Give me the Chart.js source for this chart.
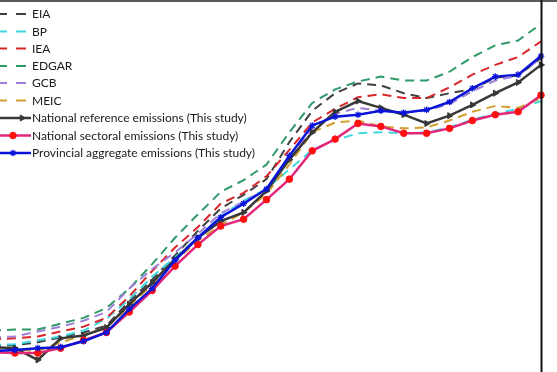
<!DOCTYPE html>
<html><head><meta charset="utf-8">
<script src="https://cdn.jsdelivr.net/npm/chart.js@4.4.1/dist/chart.umd.min.js"></script>
<style>html,body{margin:0;padding:0;background:#fff;overflow:hidden}#wrap{width:557px;height:372px;position:relative}canvas{display:block}</style>
</head><body><div id="wrap"><canvas id="c" width="557" height="372"></canvas></div>
<script>
// CO2 emissions (Mt), China
const years = [1996,1997,1998,1999,2000,2001,2002,2003,2004,2005,2006,2007,2008,2009,2010,2011,2012,2013,2014,2015,2016,2017,2018,2019,2020];
const EIA   = [3375,3400,3475,3600,3725,3900,4525,5075,5700,6325,6900,7250,7650,8600,9400,9850,10100,10050,9850,9725,9850,9950,10250,10300,10750];
const BP    = [3400,3425,3525,3625,3775,4075,4575,5150,5650,6150,6700,7100,7400,7900,8400,8650,8825,8850,8825,8850,8975,9175,9325,9450,9650];
const IEA   = [3550,3575,3625,3750,3875,4100,4650,5300,5900,6425,7025,7300,7725,8400,9100,9450,9750,9825,9725,9725,10000,10325,10575,10775,11175];
const EDGAR = [3775,3800,3800,3950,4100,4350,4850,5475,6150,6750,7325,7625,8025,8850,9600,9950,10150,10275,10175,10175,10400,10775,11075,11200,11625];
const GCB   = [3600,3625,3750,3875,4025,4250,4850,5350,5775,6250,6775,7075,7400,8150,8950,9325,9475,9400,9350,9400,9575,9900,10175,10300,10750];
const MEIC  = [3300,3300,3250,3475,3650,3850,4400,4950,5550,6075,6475,6800,7275,8025,8850,9100,9150,9000,8950,8975,9150,9375,9525,9475,9725];
const NATREF = [3350,3325,3025,3575,3650,3850,4450,5000,5600,6150,6575,6800,7350,8150,8850,9375,9650,9475,9300,9075,9275,9550,9850,10125,10575];
const NATSEC = [3225,3200,3200,3325,3525,3725,4250,4800,5425,5975,6450,6625,7125,7650,8375,8675,9075,9000,8825,8825,8950,9150,9300,9375,9800];
const PROV   = [3250,3275,3325,3350,3500,3725,4325,4850,5575,6150,6675,7025,7400,8250,9025,9250,9300,9400,9350,9425,9625,9975,10275,10325,10800];

const pts = arr => arr.map((v,i)=>({x:years[i], y:v}));

function dashed(label, data, color, order){
  return {label, data: pts(data), borderColor: color, backgroundColor: color, borderWidth: 2,
    borderDash: [9,6], pointRadius: 0, tension: 0, order, clip: false, _dashed: true};
}

const datasets = [
  dashed('EIA', EIA, '#404040', 9),
  dashed('BP', BP, '#3fd8df', 8),
  dashed('IEA', IEA, '#d8262b', 7),
  dashed('EDGAR', EDGAR, '#2e9a68', 6),
  dashed('GCB', GCB, '#a080da', 5),
  dashed('MEIC', MEIC, '#d0a030', 4),
  {label:'National reference emissions (This study)', data: pts(NATREF), borderColor:'#383838', backgroundColor:'#383838',
    borderWidth:2.5, pointStyle:'triangle', pointRotation:90, pointRadius:3.5, pointBorderWidth:1, order:2, clip:false},
  {label:'National sectoral emissions (This study)', data: pts(NATSEC), borderColor:'#e2267a', backgroundColor:'#ff1010',
    pointBackgroundColor:'#ff1010', pointBorderColor:'#ff1010', borderWidth:2.5, pointStyle:'circle', pointRadius:3.3, pointBorderWidth:1, order:1, clip:false},
  {label:'Provincial aggregate emissions (This study)', data: pts(PROV), borderColor:'#0a14d8', backgroundColor:'#0a14d8',
    borderWidth:2.5, pointStyle:'star', pointRadius:3.3, pointBorderWidth:1.3, order:0, clip:false}
];

const legendFrame = {
  id:'legendFrame',
  afterDraw(chart){
    const ctx = chart.ctx, area = chart.chartArea;
    ctx.save();
    // frame
    ctx.strokeStyle = '#5a5a5a'; ctx.lineWidth = 2;
    ctx.beginPath(); ctx.moveTo(0,1); ctx.lineTo(557,1); ctx.stroke();
    ctx.strokeStyle = '#111'; ctx.lineWidth = 2;
    ctx.beginPath(); ctx.moveTo(area.right+0.5,0); ctx.lineTo(area.right+0.5,372); ctx.stroke();
    // legend
    const rowY = [14,31.5,48.5,66,83,100.5,118,135.5,153];
    ctx.font = '12px Lato, "Noto Sans", sans-serif';
    ctx.textBaseline = 'middle';
    chart.data.datasets.forEach((ds,i)=>{
      const y = rowY[i];
      ctx.strokeStyle = ds.borderColor;
      ctx.lineWidth = ds._dashed ? 2 : 2.5;
      ctx.setLineDash(ds._dashed ? [10,9] : []);
      ctx.beginPath();
      if (ds._dashed){ ctx.moveTo(-3,y); ctx.lineTo(27,y);} else { ctx.moveTo(0,y); ctx.lineTo(31,y);}
      ctx.stroke();
      ctx.setLineDash([]);
      if (!ds._dashed){
        ctx.fillStyle = ds.pointBackgroundColor || ds.backgroundColor;
        ctx.strokeStyle = ds.pointBorderColor || ds.borderColor;
        ctx.lineWidth = ds.pointBorderWidth;
        const px = ds.pointStyle === 'triangle' ? 22 : 13;
        Chart.helpers.drawPoint(ctx, {pointStyle: ds.pointStyle, radius: ds.pointRadius, rotation: ds.pointRotation||0, borderWidth: ds.pointBorderWidth}, px, y);
      }
      ctx.fillStyle = '#1a1a1a';
      ctx.fillText(ds.label, 32, y+0.5);
    });
    ctx.restore();
  }
};

new Chart(document.getElementById('c'), {
  type:'line',
  data:{datasets},
  options:{
    responsive:false, animation:false, devicePixelRatio:1,
    layout:{padding:{top:2,right:16,bottom:0,left:0}},
    plugins:{legend:{display:false}, tooltip:{enabled:false}},
    scales:{
      x:{type:'linear', min:1996.58, max:2020, display:false},
      y:{min:2850, max:12100, display:false}
    }
  },
  plugins:[legendFrame]
});
</script></body></html>
